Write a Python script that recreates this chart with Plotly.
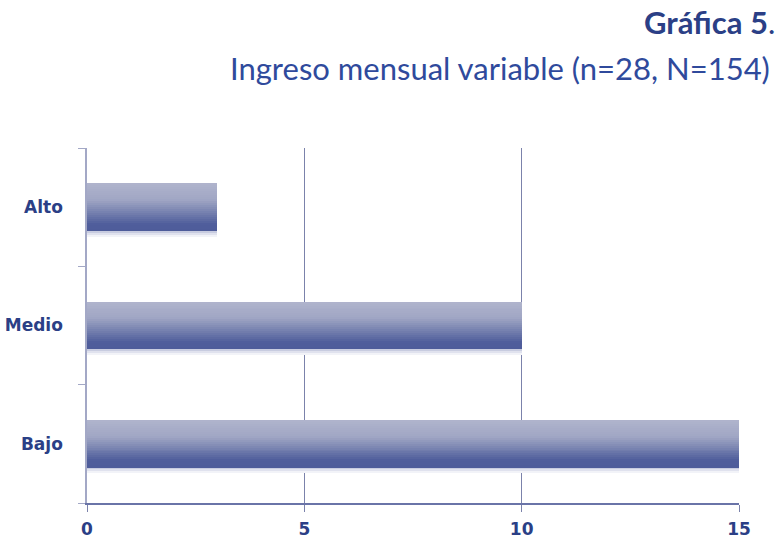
"""Horizontal bar chart: Gráfica 5 - Ingreso mensual variable."""

import plotly.graph_objects as go

CATEGORIES = ['Bajo', 'Medio', 'Alto']
VALUES = [15, 10, 3]
X_TICKS = [0, 5, 10, 15]

TITLE = 'Gráfica 5'
SUBTITLE = 'Ingreso mensual variable (n=28, N=154)'

TEXT_BLUE = '#2b3f86'
GRID_BLUE = '#7b82ab'
AXIS_LIGHT = '#a3a8c6'

BAR_WIDTH = 0.4
N_STRIPS = 24

# gradient stops (position from top of bar, colour) - lighter top, dark base
STOPS = [
    (0.0, (176, 180, 204)),
    (0.35, (160, 166, 196)),
    (0.7, (104, 116, 168)),
    (0.85, (80, 94, 156)),
    (1.0, (78, 92, 154)),
]
SHADOW = [(200, 204, 224), (224, 226, 238), (242, 243, 248)]

PLOT_L, PLOT_T, PLOT_W, PLOT_H = 87, 148, 652, 355


def _mix(t):
    for (p0, c0), (p1, c1) in zip(STOPS, STOPS[1:]):
        if p0 <= t <= p1:
            f = (t - p0) / (p1 - p0) if p1 > p0 else 0
            return 'rgb({},{},{})'.format(*[round(a + (b - a) * f) for a, b in zip(c0, c1)])
    return 'rgb({},{},{})'.format(*STOPS[-1][1])


def _px(x, y):
    """Pixel position on the page -> paper coordinates."""
    return (x - PLOT_L) / PLOT_W, 1 - (y - PLOT_T) / PLOT_H


fig = go.Figure()

strip = BAR_WIDTH / N_STRIPS

# soft shadow below each bar
for k, rgb in enumerate(SHADOW):
    fig.add_trace(go.Bar(
        y=CATEGORIES, x=VALUES, orientation='h',
        offset=-BAR_WIDTH / 2 - (k + 1) * strip, width=strip + 0.002,
        marker=dict(color='rgb({},{},{})'.format(*rgb), line=dict(width=0)),
        hoverinfo='skip', showlegend=False,
    ))

for i in range(N_STRIPS):
    t = (i + 0.5) / N_STRIPS
    fig.add_trace(go.Bar(
        y=CATEGORIES, x=VALUES, orientation='h',
        offset=BAR_WIDTH / 2 - (i + 1) * strip, width=strip + 0.002,
        marker=dict(color=_mix(t), line=dict(width=0)),
        hoverinfo='skip', showlegend=False,
    ))

tx, ty = _px(777, 22)
sx, sy = _px(772, 68)
fig.update_layout(
    width=781, height=556,
    margin=dict(l=PLOT_L, r=781 - PLOT_L - PLOT_W, t=PLOT_T, b=556 - PLOT_T - PLOT_H),
    barmode='overlay',
    bargap=0,
    plot_bgcolor='white',
    paper_bgcolor='white',
    font=dict(family='DejaVu Sans', color=TEXT_BLUE),
    annotations=[
        dict(
            text=f'<b>{TITLE}</b>.', xref='paper', yref='paper',
            x=tx, y=ty, xanchor='right', yanchor='middle', showarrow=False,
            font=dict(family='Lato', size=31, color=TEXT_BLUE),
        ),
        dict(
            text=SUBTITLE, xref='paper', yref='paper',
            x=sx, y=sy, xanchor='right', yanchor='middle', showarrow=False,
            font=dict(family='Lato', size=31, color='#2f4a9c'),
        ),
    ],
)

fig.update_xaxes(
    range=[0, 15],
    tickvals=X_TICKS,
    showgrid=True, gridcolor=GRID_BLUE, gridwidth=1,
    zeroline=False,
    showline=True, linecolor='#6a74a8', linewidth=1.5,
    ticks='outside', ticklen=7, tickcolor=GRID_BLUE,
    ticklabelstandoff=3,
    tickfont=dict(family='DejaVu Sans', size=17, color=TEXT_BLUE, weight='bold'),
    automargin=False,
    fixedrange=True,
)
fig.update_yaxes(
    type='category',
    categoryorder='array', categoryarray=CATEGORIES,
    range=[-0.5, 2.5],
    showgrid=False,
    showline=True, linecolor=AXIS_LIGHT, linewidth=1.5,
    ticks='outside', ticklen=7, tickcolor=AXIS_LIGHT, tickson='boundaries',
    ticklabelstandoff=19,
    tickfont=dict(family='DejaVu Sans', size=17, color=TEXT_BLUE, weight='bold'),
    automargin=False,
    fixedrange=True,
)

fig.write_html(
    'out.html',
    config={'displayModeBar': False},
    post_script="document.body.style.margin='0';",
)
